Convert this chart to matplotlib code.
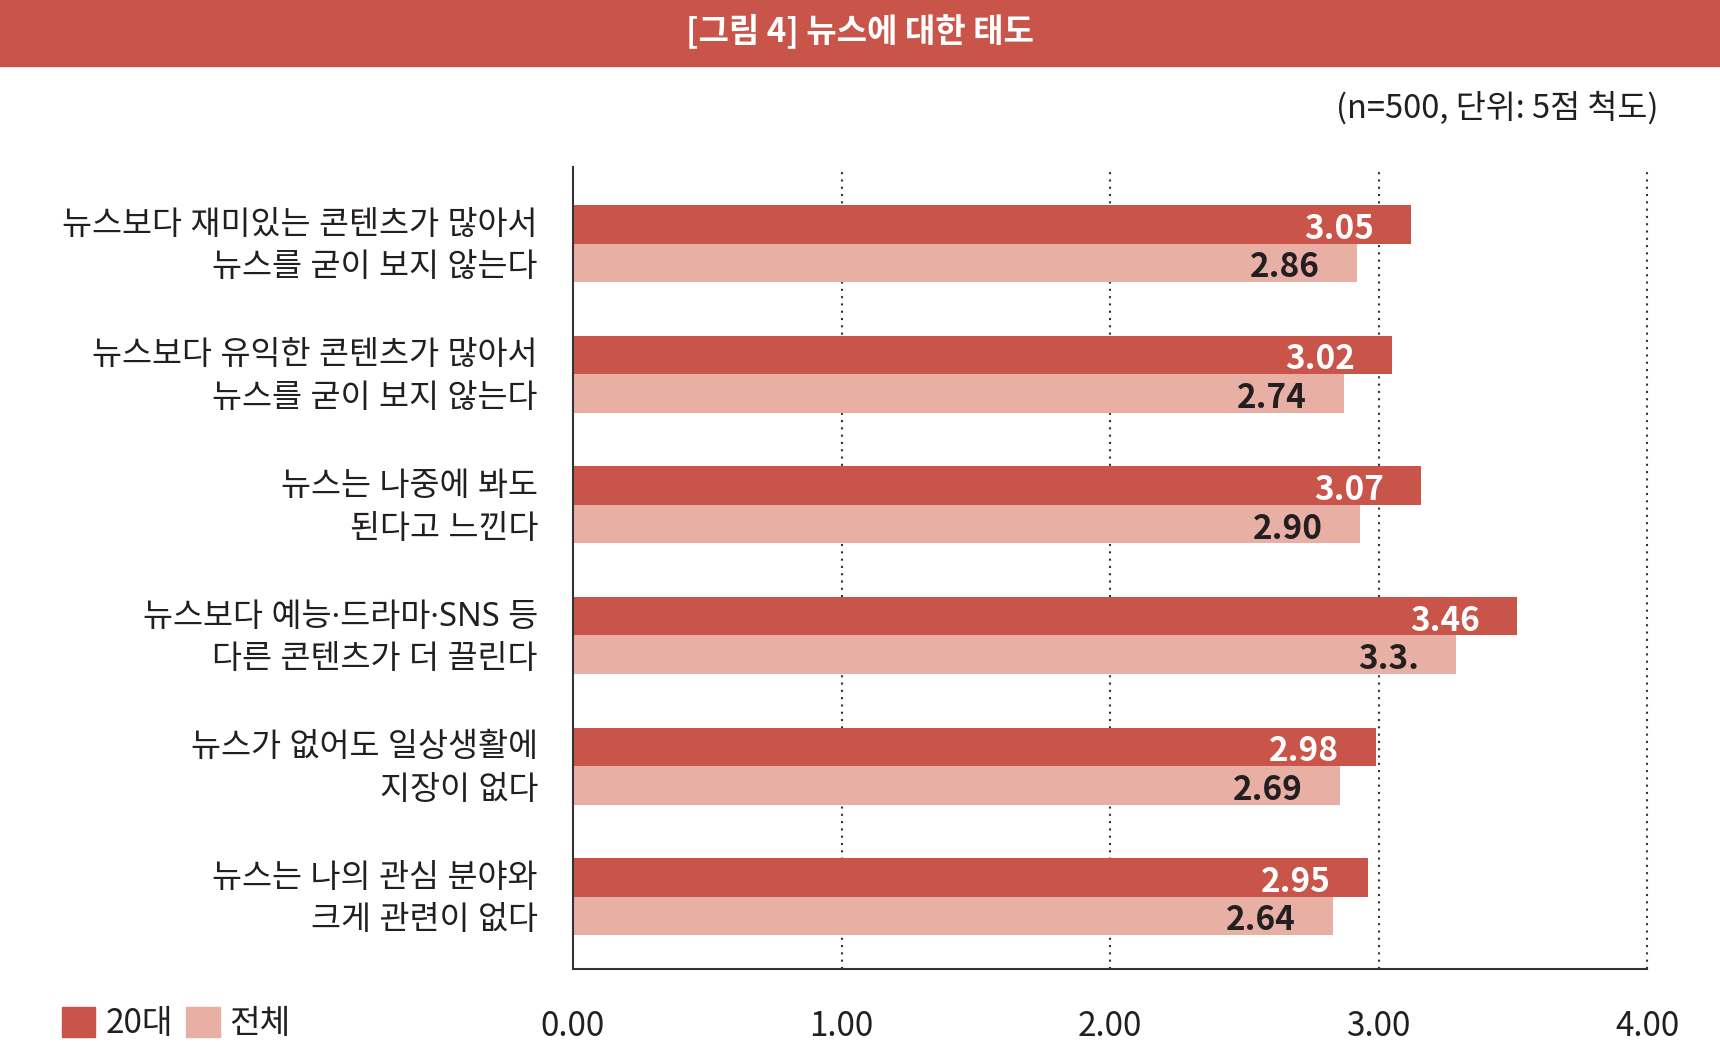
import matplotlib
matplotlib.use('Agg')
import matplotlib.pyplot as plt
from matplotlib.patches import Rectangle, Patch
import matplotlib.transforms as mtransforms
import numpy as np

plt.rcParams['font.family'] = ['Noto Sans CJK KR', 'DejaVu Sans']

# ---- data ----
category_line1 = [
    "뉴스보다 재미있는 콘텐츠가 많아서",
    "뉴스보다 유익한 콘텐츠가 많아서",
    "뉴스는 나중에 봐도",
    "뉴스보다 예능·드라마·SNS 등",
    "뉴스가 없어도 일상생활에",
    "뉴스는 나의 관심 분야와",
]
category_line2 = [
    "뉴스를 굳이 보지 않는다",
    "뉴스를 굳이 보지 않는다",
    "된다고 느낀다",
    "다른 콘텐츠가 더 끌린다",
    "지장이 없다",
    "크게 관련이 없다",
]
series_names = ["20대", "전체"]
# bar lengths as drawn in the picture
bars_20s = [3.12, 3.05, 3.16, 3.515, 2.99, 2.96]
bars_all = [2.92, 2.87, 2.93, 3.29, 2.855, 2.83]
# value labels as printed
labels_20s = ["3.05", "3.02", "3.07", "3.46", "2.98", "2.95"]
labels_all = ["2.86", "2.74", "2.90", "3.3.", "2.69", "2.64"]
x_ticks = [0, 1, 2, 3, 4]
x_tick_labels = ["0.00", "1.00", "2.00", "3.00", "4.00"]
title = "[그림 4] 뉴스에 대한 태도"
subtitle = "(n=500, 단위: 5점 척도)"

# ---- style ----
RED = "#C8544A"
PINK = "#E8B0A5"
DARK = "#231F20"
AXC = "#333333"
LABEL_FONT = ['Noto Sans', 'Noto Sans CJK KR', 'DejaVu Sans']

W, H = 1720, 1054
fig = plt.figure(figsize=(W / 100, H / 100), dpi=100)
fig.patches.append(Rectangle((0, 1 - 66 / H), 1, 66 / H, transform=fig.transFigure,
                             color=RED, zorder=0))
fig.text(0.5, 1 - 31 / H, title, ha='center', va='center', color='white',
         fontsize=23.8, fontweight='bold')
fig.text(1658 / W, 1 - 108 / H, subtitle, ha='right', va='center', color=DARK,
         fontsize=23.5)

ax = fig.add_axes([573 / W, 85 / H, 1074 / W, 802 / H])
y = np.arange(len(category_line1))
h = 0.295
ax.barh(y - h / 2, bars_20s, height=h, color=RED, zorder=2)
ax.barh(y + h / 2, bars_all, height=h, color=PINK, zorder=2)
ax.set_xlim(0, 4)
ax.set_ylim(5.554, -0.587)

for xv in x_ticks[1:]:
    ax.axvline(xv, color=AXC, lw=1.5, linestyle=(0, (1, 2.5)), zorder=1, clip_on=False)

for s in ['top', 'right']:
    ax.spines[s].set_visible(False)
for s in ['left', 'bottom']:
    ax.spines[s].set_color(AXC)
    ax.spines[s].set_linewidth(1.5)
    ax.spines[s].set_zorder(3)

ax.set_xticks(x_ticks, x_tick_labels)
ax.tick_params(axis='x', length=0, pad=28.5, labelsize=24, labelcolor=DARK)
ax.set_yticks([])

for i in range(len(y)):
    ax.annotate(labels_20s[i], xy=(bars_20s[i], y[i] - h / 2), xytext=(-26.6, -10.4),
                textcoords='offset points', ha='right', va='baseline', color='white',
                fontsize=24, fontweight='bold', zorder=4)
    ax.annotate(labels_all[i], xy=(bars_all[i], y[i] + h / 2), xytext=(-26.6, -10.4),
                textcoords='offset points', ha='right', va='baseline', color=DARK,
                fontsize=24, fontweight='bold', zorder=4)

trans = mtransforms.blended_transform_factory(ax.transAxes, ax.transData)
for i in range(len(y)):
    ax.text(-35 / 1074, y[i] - 0.14, category_line1[i], transform=trans, ha='right',
            va='center', fontsize=23.5, color=DARK, family=LABEL_FONT)
    ax.text(-35 / 1074, y[i] + 0.185, category_line2[i], transform=trans, ha='right',
            va='center', fontsize=23.5, color=DARK, family=LABEL_FONT)

handles = [Patch(color=RED), Patch(color=PINK)]
fig.legend(handles, series_names, loc='center left', bbox_to_anchor=(62 / W, 1 - 1024 / H),
           ncol=2, frameon=False, fontsize=24, labelcolor=DARK, handlelength=1.0,
           handleheight=1.0, handletextpad=0.3, columnspacing=0.4, borderpad=0,
           borderaxespad=0)

fig.savefig('out.png', dpi=100)
